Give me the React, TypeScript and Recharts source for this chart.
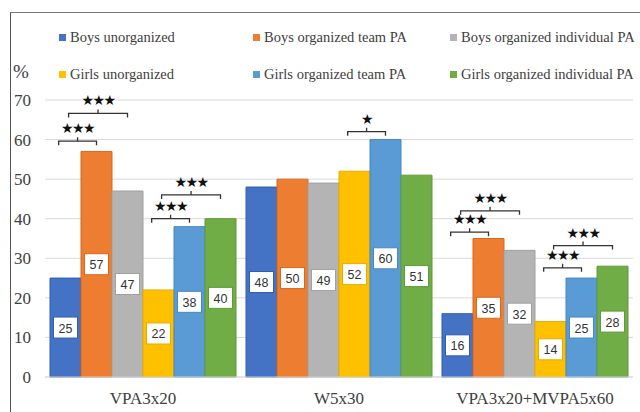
import { BarChart, Bar, XAxis, YAxis, CartesianGrid, Legend, LabelList } from 'recharts'

const categories = ['VPA3x20', 'W5x30', 'VPA3x20+MVPA5x60']
const seriesNames = [
  'Boys unorganized',
  'Boys organized team PA',
  'Boys organized individual PA',
  'Girls unorganized',
  'Girls organized team PA',
  'Girls organized individual PA',
]
const boysUnorganized = [25, 48, 16]
const boysTeam = [57, 50, 35]
const boysIndividual = [47, 49, 32]
const girlsUnorganized = [22, 52, 14]
const girlsTeam = [38, 60, 25]
const girlsIndividual = [40, 51, 28]
const yTicks = [0, 10, 20, 30, 40, 50, 60, 70]

// significance brackets: category, from bar, to bar, height (in %), stars
const bracketCategory = [0, 0, 0, 0, 1, 2, 2, 2, 2]
const bracketFrom = [0, 0, 3, 3, 3, 0, 0, 3, 3]
const bracketTo = [1, 2, 4, 5, 4, 1, 2, 4, 5]
const bracketLevel = [59.6, 66.6, 40, 46, 62, 36.6, 42, 27.6, 33.2]
const bracketStars = ['★★★', '★★★', '★★★', '★★★', '★', '★★★', '★★★', '★★★', '★★★']

const colors = ['#4472C4', '#ED7D31', '#B4B4B4', '#FFC000', '#5B9BD5', '#70AD47']
const edges = ['#2F5DB0', '#D9681C', '#A0A0A0', '#E5AC00', '#4787C4', '#5E9A38']
const seriesValues = [boysUnorganized, boysTeam, boysIndividual, girlsUnorganized, girlsTeam, girlsIndividual]

const data = categories.map((name, i) => {
  const row: Record<string, string | number> = { name }
  seriesValues.forEach((vals, s) => {
    row['s' + s] = vals[i]
  })
  return row
})

const SERIF = '"Liberation Serif", "Times New Roman", serif'

function box(props: any) {
  const vb = props.viewBox || {}
  const x = props.x ?? vb.x
  const y = props.y ?? vb.y
  const width = props.width ?? vb.width
  const height = props.height ?? vb.height
  return { x: Number(x), y: Number(y), width: Number(width), height: Number(height) }
}

function makeValueLabel(color: string) {
  return function ValueLabel(props: any) {
    const { x, y, width, height } = box(props)
    const cx = x + width / 2
    const cy = y + height / 2
    return (
      <g>
        <rect x={cx - 12} y={cy - 10.5} width={24} height={21} fill="#fff" stroke={color} strokeWidth={1} />
        <text
          x={cx}
          y={cy + 1}
          textAnchor="middle"
          dominantBaseline="central"
          fontSize={12.5}
          fontFamily='"Liberation Sans", Arial, sans-serif'
          fill="#333"
        >
          {props.value}
        </text>
      </g>
    )
  }
}

function BracketLabel(props: any) {
  const { x, y, width, height } = box(props)
  const index = props.index
  const value = Number(props.value)
  if (!value) return null
  const base = y + height
  const perUnit = height / value
  const out: any[] = []
  bracketCategory.forEach((c, k) => {
    if (c !== index) return
    const from = bracketFrom[k]
    const to = bracketTo[k]
    const xFrom = x - (5 - from) * width
    const xTo = x - (5 - to) * width
    const left = xFrom + width * (to - from > 1 ? 0.6 : 0.28)
    const right = xTo + width * 0.5
    const py = base - bracketLevel[k] * perUnit
    const mid = (left + right) / 2
    out.push(
      <g key={k}>
        <path
          d={`M${left},${py + 4} L${left},${py} L${right},${py} L${right},${py + 4} M${mid},${py} L${mid},${py - 4}`}
          stroke="#333"
          strokeWidth={1.3}
          fill="none"
        />
        <text
          x={mid}
          y={py - 13}
          textAnchor="middle"
          dominantBaseline="central"
          fontSize={14}
          letterSpacing={-1.5}
          fontFamily='"DejaVu Sans", sans-serif'
          fill="#111"
        >
          {bracketStars[k]}
        </text>
      </g>
    )
  })
  return <g>{out}</g>
}

const legendCols = [59, 253, 450]
const legendRows = [37, 74]

function ChartLegend() {
  return (
    <div style={{ position: 'relative', height: 0, width: 640 }}>
      {seriesNames.map((n, i) => (
        <div
          key={n}
          style={{
            position: 'absolute',
            left: legendCols[i % 3],
            top: legendRows[Math.floor(i / 3)] - 9,
            height: 18,
            display: 'flex',
            alignItems: 'center',
            whiteSpace: 'nowrap',
            fontFamily: SERIF,
            fontSize: 14.5,
            color: '#404040',
          }}
        >
          <span style={{ display: 'inline-block', width: 7, height: 7, background: colors[i], marginRight: 4 }} />
          {n}
        </div>
      ))}
    </div>
  )
}

export default function App() {
  return (
    <div style={{ position: 'absolute', left: 0, top: 0, width: 640, height: 412, background: '#fff' }}>
      <div
        style={{
          position: 'absolute',
          left: 10,
          top: 12,
          width: 640,
          height: 420,
          borderLeft: '1.5px solid #555',
          borderTop: '1.5px solid #777',
        }}
      />
      <div
        style={{ position: 'absolute', left: 13, top: 61, fontFamily: SERIF, fontSize: 19, color: '#404040' }}
      >
        %
      </div>
      <BarChart
        width={640}
        height={412}
        data={data}
        margin={{ top: 100, right: 7, left: 0, bottom: 5 }}
        barCategoryGap={5}
        barGap={0}
        style={{ position: 'absolute', left: 0, top: 0 }}
      >
        <CartesianGrid vertical={false} stroke="#d9d9d9" />
        <XAxis
          dataKey="name"
          tickLine={false}
          axisLine={{ stroke: '#d9d9d9' }}
          tickMargin={9}
          height={30}
          tick={{ fontSize: 17, fill: '#404040', fontFamily: SERIF }}
        />
        <YAxis
          width={45}
          domain={[0, 70]}
          ticks={yTicks}
          interval={0}
          tickLine={false}
          axisLine={false}
          tickMargin={8}
          tick={{ fontSize: 17, fill: '#404040', fontFamily: SERIF }}
        />
        <Legend content={<ChartLegend />} wrapperStyle={{ top: 0, left: 0 }} verticalAlign="top" height={0} />
        {seriesNames.map((n, i) => (
          <Bar
            key={n}
            dataKey={'s' + i}
            name={n}
            fill={colors[i]}
            stroke={edges[i]}
            strokeWidth={1}
            isAnimationActive={false}
          >
            <LabelList dataKey={'s' + i} content={makeValueLabel(edges[i])} />
            {i === 5 ? <LabelList dataKey={'s' + i} content={BracketLabel} /> : null}
          </Bar>
        ))}
      </BarChart>
    </div>
  )
}
